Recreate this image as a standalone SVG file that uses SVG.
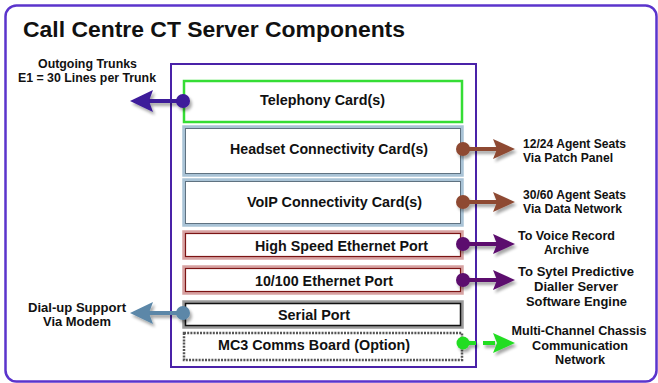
<svg xmlns="http://www.w3.org/2000/svg" width="658" height="383" viewBox="0 0 658 383">
  <style>
    .title { font-family: "Liberation Sans", Arial, sans-serif; font-weight: bold; font-size: 22px; fill: #111; }
    .lbl { font-family: "Liberation Sans", Arial, sans-serif; font-weight: bold; font-size: 15px; fill: #111; text-anchor: middle; }
    .side { font-family: "Liberation Sans", Arial, sans-serif; font-weight: bold; font-size: 13px; fill: #111; }
    .mid { text-anchor: middle; }
    .box { fill: #fff; }
  </style>
  <defs>
    <filter id="shadow" x="-30%" y="-60%" width="160%" height="220%">
      <feGaussianBlur in="SourceAlpha" stdDeviation="1.8"/>
      <feOffset dx="2" dy="3" result="b"/>
      <feComponentTransfer><feFuncA type="linear" slope="0.35"/></feComponentTransfer>
      <feMerge><feMergeNode/><feMergeNode in="SourceGraphic"/></feMerge>
    </filter>
  </defs>

  <rect width="658" height="383" fill="#fff"/>

  <!-- outer frame -->
  <rect x="5.5" y="5.5" width="651" height="376" rx="11" fill="#fff" stroke="#5b34cc" stroke-width="2.5"/>
  <text class="title" x="23" y="37" textLength="382" lengthAdjust="spacingAndGlyphs">Call Centre CT Server Components</text>

  <!-- server chassis -->
  <g id="chassis">
    <rect x="171" y="64" width="305" height="303" fill="#fff" stroke="#4a22a8" stroke-width="2"/>
  </g>

  <g id="telephony">
    <rect class="box" x="184" y="81" width="278" height="41" stroke="#35dd35" stroke-width="2.5"/>
    <text class="lbl" x="322.5" y="105" textLength="125" lengthAdjust="spacingAndGlyphs">Telephony Card(s)</text>
  </g>
  <g id="headset">
    <rect class="box" x="184" y="127" width="278" height="48" stroke="#a9c3d6" stroke-width="3.5"/>
    <rect x="185.5" y="128.5" width="275" height="45" fill="none" stroke="#5f7281" stroke-width="1"/>
    <text class="lbl" x="329" y="154" textLength="198" lengthAdjust="spacingAndGlyphs">Headset Connectivity Card(s)</text>
  </g>
  <g id="voip">
    <rect class="box" x="184" y="180" width="278" height="45" stroke="#a9c3d6" stroke-width="3.5"/>
    <rect x="185.5" y="181.5" width="275" height="42" fill="none" stroke="#5f7281" stroke-width="1"/>
    <text class="lbl" x="334.5" y="207" textLength="175" lengthAdjust="spacingAndGlyphs">VoIP Connectivity Card(s)</text>
  </g>
  <g id="highspeed">
    <rect class="box" x="184" y="232" width="278" height="26" stroke="#d7a2a2" stroke-width="3.5"/>
    <rect x="185.5" y="233.5" width="275" height="23" fill="none" stroke="#7c1414" stroke-width="1.2"/>
    <text class="lbl" x="341.5" y="251" textLength="173" lengthAdjust="spacingAndGlyphs">High Speed Ethernet Port</text>
  </g>
  <g id="ethernet">
    <rect class="box" x="184" y="267" width="278" height="26" stroke="#d7a2a2" stroke-width="3.5"/>
    <rect x="185.5" y="268.5" width="275" height="23" fill="none" stroke="#7c1414" stroke-width="1.2"/>
    <text class="lbl" x="324" y="286" textLength="138" lengthAdjust="spacingAndGlyphs">10/100 Ethernet Port</text>
  </g>
  <g id="serial">
    <rect class="box" x="184" y="302" width="278" height="25" stroke="#9a9a9a" stroke-width="3.5"/>
    <rect x="185.5" y="303.5" width="275" height="22" fill="none" stroke="#111" stroke-width="1.5"/>
    <text class="lbl" x="314" y="320" textLength="72" lengthAdjust="spacingAndGlyphs">Serial Port</text>
  </g>
  <g id="mc3">
    <rect class="box" x="184" y="333" width="278" height="27" stroke="#555" stroke-width="2.5" stroke-dasharray="2 1.2"/>
    <text class="lbl" x="314" y="350" textLength="192" lengthAdjust="spacingAndGlyphs">MC3 Comms Board (Option)</text>
  </g>

  <!-- connectors -->
  <g id="connectors" filter="url(#shadow)">
    <!-- outgoing trunks -->
    <g fill="#3d1a9a" stroke="#3d1a9a">
      <line x1="183" y1="101" x2="148" y2="101" stroke-width="4"/>
      <polygon points="130,101 153,90 149,101 153,112" stroke="none"/>
      <circle cx="183" cy="101" r="7" stroke="none"/>
    </g>
    <!-- headset -->
    <g fill="#8e4a33" stroke="#8e4a33">
      <line x1="463" y1="149" x2="498" y2="149" stroke-width="4"/>
      <polygon points="515,149 493,139 497,149 493,159" stroke="none"/>
      <circle cx="463" cy="149" r="7" stroke="none"/>
    </g>
    <!-- voip -->
    <g fill="#8e4a33" stroke="#8e4a33">
      <line x1="463" y1="202" x2="498" y2="202" stroke-width="4"/>
      <polygon points="515,202 493,192 497,202 493,212" stroke="none"/>
      <circle cx="463" cy="202" r="7" stroke="none"/>
    </g>
    <!-- high speed ethernet -->
    <g fill="#5c0e6e" stroke="#5c0e6e">
      <line x1="463" y1="244" x2="498" y2="244" stroke-width="4"/>
      <polygon points="515,244 493,234 497,244 493,254" stroke="none"/>
      <circle cx="463" cy="244" r="7" stroke="none"/>
    </g>
    <!-- 10/100 ethernet -->
    <g fill="#5c0e6e" stroke="#5c0e6e">
      <line x1="463" y1="280" x2="498" y2="280" stroke-width="4"/>
      <polygon points="515,280 493,270 497,280 493,290" stroke="none"/>
      <circle cx="463" cy="280" r="7" stroke="none"/>
    </g>
    <!-- serial / modem -->
    <g fill="#5b87a8" stroke="#5b87a8">
      <line x1="183" y1="313" x2="148" y2="313" stroke-width="4"/>
      <polygon points="130,313 153,302 149,313 153,324" stroke="none"/>
      <circle cx="183" cy="313" r="7" stroke="none"/>
    </g>
    <!-- mc3 chassis network -->
    <g fill="#22dd22" stroke="#22dd22">
      <line x1="463" y1="343" x2="498" y2="343" stroke-width="4" stroke-dasharray="13 7 12"/>
      <polygon points="515,343 493,333 497,343 493,353" stroke="none"/>
      <circle cx="463" cy="343" r="6.5" stroke="none"/>
    </g>
  </g>

  <!-- connector labels -->
  <g id="labels">
    <text class="side mid" x="87.5" y="68" textLength="99" lengthAdjust="spacingAndGlyphs">Outgoing Trunks</text>
    <text class="side mid" x="87" y="82" textLength="138" lengthAdjust="spacingAndGlyphs">E1 = 30 Lines per Trunk</text>
    <text class="side mid" x="77" y="312" textLength="98" lengthAdjust="spacingAndGlyphs">Dial-up Support</text>
    <text class="side mid" x="77" y="326" textLength="68" lengthAdjust="spacingAndGlyphs">Via Modem</text>
    <text class="side" x="523" y="148" textLength="103" lengthAdjust="spacingAndGlyphs">12/24 Agent Seats</text>
    <text class="side" x="523" y="162" textLength="90" lengthAdjust="spacingAndGlyphs">Via Patch Panel</text>
    <text class="side" x="523" y="199" textLength="103" lengthAdjust="spacingAndGlyphs">30/60 Agent Seats</text>
    <text class="side" x="523" y="213" textLength="99" lengthAdjust="spacingAndGlyphs">Via Data Network</text>
    <text class="side mid" x="566.5" y="240" textLength="97" lengthAdjust="spacingAndGlyphs">To Voice Record</text>
    <text class="side mid" x="566.5" y="254" textLength="45" lengthAdjust="spacingAndGlyphs">Archive</text>
    <text class="side mid" x="576" y="276" textLength="116" lengthAdjust="spacingAndGlyphs">To Sytel Predictive</text>
    <text class="side mid" x="576" y="291" textLength="84" lengthAdjust="spacingAndGlyphs">Dialler Server</text>
    <text class="side mid" x="576.5" y="306" textLength="101" lengthAdjust="spacingAndGlyphs">Software Engine</text>
    <text class="side mid" x="579" y="335" textLength="135" lengthAdjust="spacingAndGlyphs">Multi-Channel Chassis</text>
    <text class="side mid" x="580" y="350" textLength="96" lengthAdjust="spacingAndGlyphs">Communication</text>
    <text class="side mid" x="580" y="364" textLength="50" lengthAdjust="spacingAndGlyphs">Network</text>
  </g>
</svg>
